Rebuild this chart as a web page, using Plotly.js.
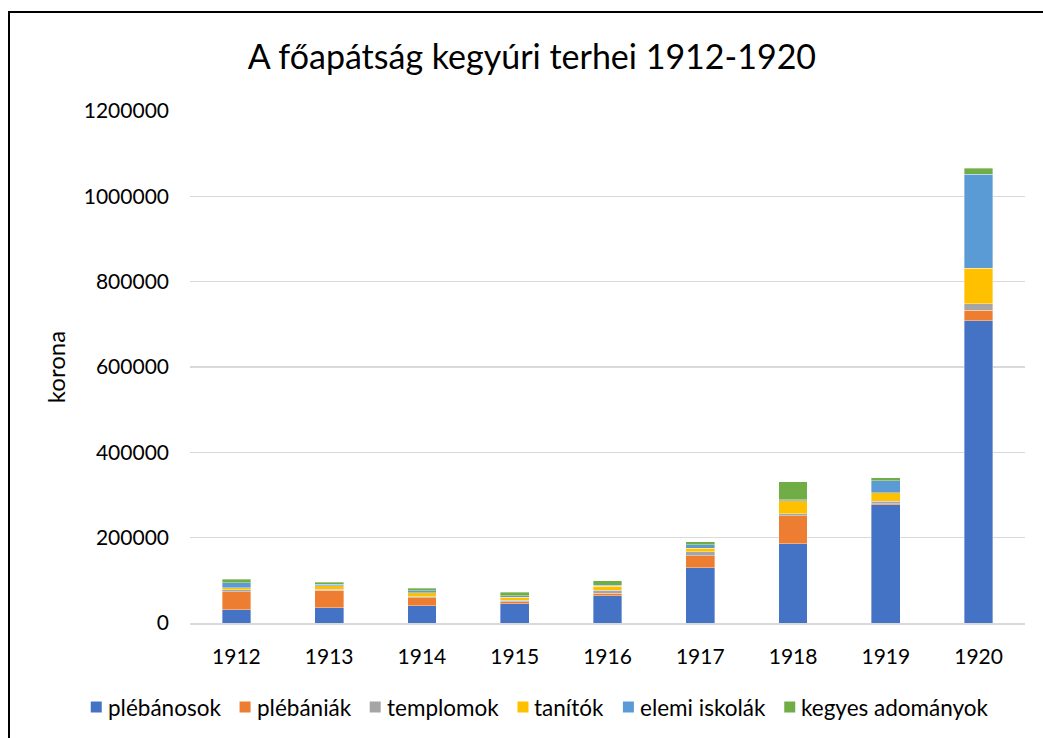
<!DOCTYPE html>
<html><head><meta charset="utf-8">
<script src="https://cdn.plot.ly/plotly-3.0.1.min.js"></script>
<style>
html,body{margin:0;padding:0;background:#fff;overflow:hidden;}
#frame{position:absolute;left:8px;top:11px;width:1100px;height:800px;border:2px solid #000;box-sizing:border-box;pointer-events:none;z-index:10;}
#chart{position:absolute;left:0;top:0;width:1043px;height:738px;}
</style></head>
<body>
<div id="chart"></div>
<div id="frame"></div>
<script>
const years = ['1912','1913','1914','1915','1916','1917','1918','1919','1920'];
const plebanosok = [31400, 36000, 39900, 44600, 63300, 129000, 185300, 277500, 708200];
const plebaniak = [41300, 41300, 18800, 5600, 7000, 29000, 65700, 2300, 25000];
const templomok = [4700, 2300, 3300, 3700, 6300, 9400, 5600, 5500, 15600];
const tanitok = [5600, 8000, 8400, 6300, 10000, 7700, 29700, 19500, 82100];
const elemiIskolak = [11700, 3100, 4700, 3100, 2300, 8700, 3100, 28100, 221200];
const kegyesAdomanyok = [7800, 4700, 6300, 8600, 10300, 7000, 41400, 7000, 14100];
const seriesNames = ['plébánosok','plébániák','templomok','tanítók','elemi iskolák','kegyes adományok'];
const colors = ['#4472C4','#ED7D31','#A5A5A5','#FFC000','#5B9BD5','#70AD47'];
const seriesData = [plebanosok, plebaniak, templomok, tanitok, elemiIskolak, kegyesAdomanyok];

const fontFam = 'Lato, "Open Sans", sans-serif';
const W = 1043, H = 738;
const M = {l: 190, r: 18, t: 111, b: 115};
const pw = W - M.l - M.r, ph = H - M.t - M.b;

const traces = seriesData.map((vals, i) => ({
  type: 'bar', name: seriesNames[i], x: years, y: vals,
  marker: {color: colors[i], line: {color: 'rgba(255,255,255,0.6)', width: 0.6}},
  hoverinfo: 'x+y+name'
}));

// custom legend (single row, Excel style)
const legSize = 22.5;
const cv = document.createElement('canvas').getContext('2d');
cv.font = legSize + 'px Lato';
const sq = 11, gapTxt = 5, gapItem = 20, legCenterX = 539, legY = 707;
const widths = seriesNames.map(n => cv.measureText(n).width);
const total = widths.reduce((a, b) => a + b, 0) + seriesNames.length * (sq + gapTxt) + (seriesNames.length - 1) * gapItem;
let cx = legCenterX - total / 2;
const px2x = p => (p - M.l) / pw;
const px2y = p => (H - M.b - p) / ph;
const shapes = [], annotations = [];
seriesNames.forEach((n, i) => {
  shapes.push({type: 'rect', xref: 'paper', yref: 'paper', x0: px2x(cx), x1: px2x(cx + sq),
               y0: px2y(legY + sq / 2), y1: px2y(legY - sq / 2), fillcolor: colors[i], line: {width: 0}});
  annotations.push({xref: 'paper', yref: 'paper', x: px2x(cx + sq + gapTxt), y: px2y(legY), xanchor: 'left', yanchor: 'middle',
                    text: n, showarrow: false, borderpad: 0, font: {family: fontFam, size: legSize, color: '#000'}});
  cx += sq + gapTxt + widths[i] + gapItem;
});

const layout = {
  width: W, height: H,
  barmode: 'stack', bargap: 0.69,
  paper_bgcolor: '#fff', plot_bgcolor: '#fff',
  margin: M,
  title: {text: 'A főapátság kegyúri terhei 1912-1920', x: 0.51, xanchor: 'center', y: 0.923, yanchor: 'middle',
          font: {family: fontFam, size: 34, color: '#000'}},
  font: {family: fontFam, color: '#000'},
  xaxis: {type: 'category', tickfont: {size: 21, color: '#000'}, showgrid: false, automargin: false,
          showline: true, linecolor: '#D9D9D9', linewidth: 1.5, ticks: '', ticklen: 0, ticklabelstandoff: 14},
  yaxis: {range: [0, 1200000], dtick: 200000, tickformat: 'd', tickfont: {size: 21, color: '#000'}, automargin: false,
          gridcolor: '#D9D9D9', gridwidth: 1.3, zeroline: false, showline: false, ticks: '', ticklabelstandoff: 20,
          title: {text: 'korona', font: {size: 24, color: '#000'}, standoff: 11}},
  showlegend: false,
  shapes: shapes,
  annotations: annotations
};
Plotly.newPlot('chart', traces, layout, {displayModeBar: false, staticPlot: true});
</script>
</body></html>
